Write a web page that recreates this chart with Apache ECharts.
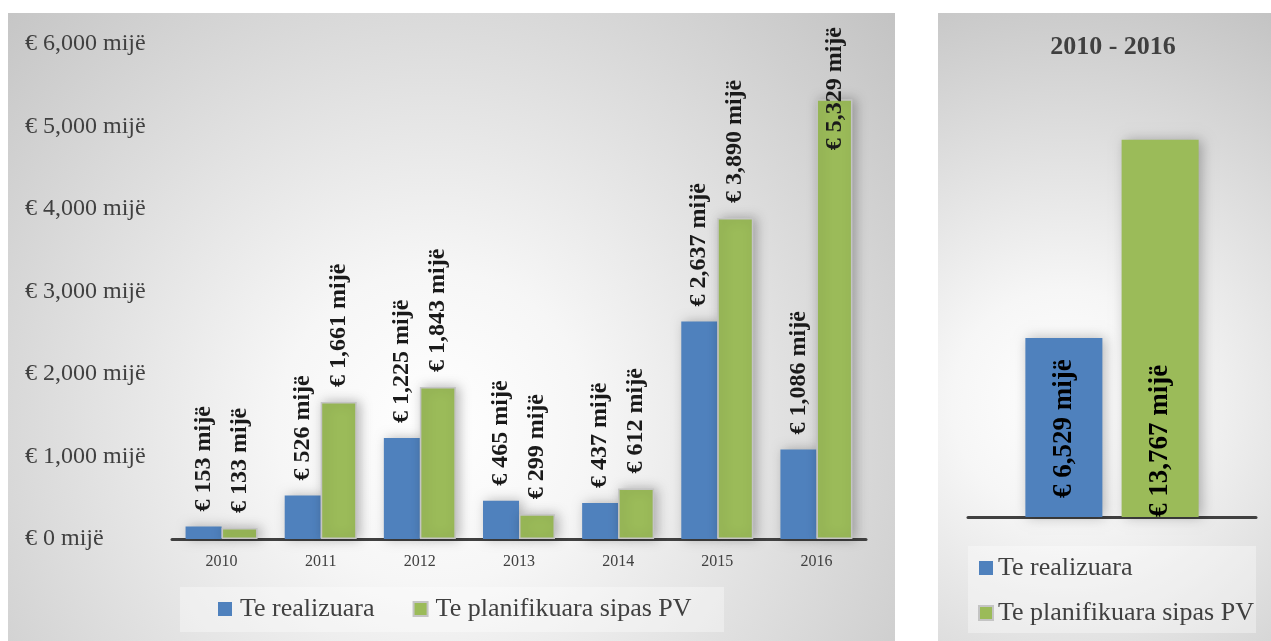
<!DOCTYPE html>
<html>
<head>
<meta charset="utf-8">
<script src="https://cdn.jsdelivr.net/npm/echarts@6/dist/echarts.min.js"></script>
<style>
  html, body { margin: 0; padding: 0; background: #ffffff; }
  #chart { width: 1271px; height: 641px; }
</style>
</head>
<body>
<div id="chart"></div>
<script>
// Yearly amounts, thousands of euro
const years = ['2010', '2011', '2012', '2013', '2014', '2015', '2016'];
const realized = [153, 526, 1225, 465, 437, 2637, 1086];
const planned = [133, 1661, 1843, 299, 612, 3890, 5329];

// Totals for the whole period
const periodLabel = ['2010 - 2016'];
const realizedTotal = [6529];
const plannedTotal = [13767];

const seriesNames = ['Te realizuara', 'Te planifikuara sipas PV'];
const valueTicks = [0, 1000, 2000, 3000, 4000, 5000, 6000];

const FONT = '"Liberation Serif", "DejaVu Serif", serif';
const BLUE = '#4f81bd';
const GREEN = '#9bbb59';
const TEXT = '#404040';

const money = v => '€ ' + Number(v).toLocaleString('en-US') + ' mijë';

const barShadow = {
  shadowBlur: 12,
  shadowColor: 'rgba(0,0,0,0.28)',
  shadowOffsetX: 3,
  shadowOffsetY: 0
};

const yearLabel = {
  show: true,
  position: 'top',
  distance: 15,
  rotate: 90,
  align: 'left',
  verticalAlign: 'middle',
  fontFamily: FONT,
  fontWeight: 'bold',
  fontSize: 24,
  color: '#1a1a1a',
  formatter: p => money(p.value)
};

// the tallest bar's label is pulled down along its own direction so it stays inside the panel
const plannedData = planned.map(v =>
  v === Math.max(...planned) ? { value: v, label: { offset: [-66, 0] } } : v
);

const chart = echarts.init(document.getElementById('chart'), null, { renderer: 'canvas' });

chart.setOption({
  animation: false,
  graphic: [
    {
      type: 'rect', z: -10, silent: true,
      shape: { x: 8, y: 13, width: 887, height: 628 },
      style: {
        fill: {
          type: 'radial', x: 0.48, y: 0.66, r: 1.0,
          colorStops: [
            { offset: 0, color: '#ffffff' },
            { offset: 0.25, color: '#f6f6f6' },
            { offset: 1, color: '#c2c2c2' }
          ]
        }
      }
    },
    {
      type: 'rect', z: -10, silent: true,
      shape: { x: 938, y: 13, width: 333, height: 628 },
      style: {
        fill: {
          type: 'radial', x: 0.38, y: 0.62, r: 1.35,
          colorStops: [
            { offset: 0, color: '#ffffff' },
            { offset: 0.25, color: '#f6f6f6' },
            { offset: 1, color: '#c2c2c2' }
          ]
        }
      }
    },
    {
      type: 'rect', z: -5, silent: true,
      shape: { x: 180, y: 587, width: 544, height: 45 },
      style: { fill: 'rgba(255,255,255,0.35)' }
    },
    {
      type: 'rect', z: -5, silent: true,
      shape: { x: 968, y: 546, width: 288, height: 87 },
      style: { fill: 'rgba(255,255,255,0.35)' }
    }
  ],
  title: {
    text: periodLabel[0],
    left: 1108,
    top: 29,
    textAlign: 'center',
    textStyle: { fontFamily: FONT, fontWeight: 'bold', fontSize: 26, color: TEXT }
  },
  legend: [
    {
      data: seriesNames,
      orient: 'horizontal',
      left: 218,
      top: 594,
      itemWidth: 14,
      itemHeight: 14,
      itemGap: 38,
      icon: 'rect',
      padding: 0,
      textStyle: { fontFamily: FONT, fontSize: 26, color: TEXT, lineHeight: 30, padding: [0, 0, 0, 3] }
    },
    {
      data: seriesNames,
      orient: 'vertical',
      left: 978,
      top: 553,
      itemWidth: 14,
      itemHeight: 14,
      itemGap: 15,
      icon: 'rect',
      padding: 0,
      textStyle: { fontFamily: FONT, fontSize: 26, color: TEXT, lineHeight: 30, padding: [0, 0, 0, 0] }
    }
  ],
  grid: [
    { left: 172, right: 405, top: 44, bottom: 102 },
    { left: 968, right: 15, top: 106, bottom: 124 }
  ],
  xAxis: [
    {
      type: 'category', gridIndex: 0, data: years,
      axisLine: { lineStyle: { color: '#404040', width: 3 } },
      axisTick: { show: false },
      axisLabel: { fontFamily: FONT, fontSize: 16, color: TEXT, margin: 15 }
    },
    {
      type: 'category', gridIndex: 1, data: periodLabel,
      axisLine: { lineStyle: { color: '#404040', width: 3 } },
      axisTick: { show: false },
      axisLabel: { show: false }
    }
  ],
  yAxis: [
    {
      type: 'value', gridIndex: 0,
      min: valueTicks[0], max: valueTicks[valueTicks.length - 1], interval: 1000,
      splitLine: { show: false },
      axisLine: { show: false },
      axisTick: { show: false },
      axisLabel: {
        align: 'left', margin: 147,
        fontFamily: FONT, fontSize: 24, color: TEXT,
        formatter: v => money(v)
      }
    },
    {
      type: 'value', gridIndex: 1, min: 0, max: 15000,
      show: false, splitLine: { show: false }
    }
  ],
  series: [
    {
      name: seriesNames[0], type: 'bar', xAxisIndex: 0, yAxisIndex: 0,
      data: realized, barWidth: 36, barGap: '0%',
      itemStyle: Object.assign({ color: BLUE }, barShadow),
      label: yearLabel
    },
    {
      name: seriesNames[1], type: 'bar', xAxisIndex: 0, yAxisIndex: 0,
      data: plannedData, barWidth: 36, barGap: '0%',
      itemStyle: Object.assign({ color: GREEN, borderColor: '#c4c4c4', borderWidth: 1.5 }, barShadow),
      label: yearLabel
    },
    {
      name: seriesNames[0], type: 'bar', xAxisIndex: 1, yAxisIndex: 1,
      data: realizedTotal, barWidth: 77, barGap: '25%',
      itemStyle: Object.assign({ color: BLUE }, barShadow),
      label: {
        show: true, position: 'insideBottom', distance: 19, rotate: 90,
        align: 'left', verticalAlign: 'middle',
        fontFamily: FONT, fontWeight: 'bold', fontSize: 27, color: '#000000',
        formatter: p => money(p.value)
      }
    },
    {
      name: seriesNames[1], type: 'bar', xAxisIndex: 1, yAxisIndex: 1,
      data: plannedTotal, barWidth: 77, barGap: '25%',
      itemStyle: Object.assign({ color: GREEN }, barShadow),
      label: {
        show: true, position: 'insideBottom', distance: 0, rotate: 90,
        align: 'left', verticalAlign: 'middle',
        fontFamily: FONT, fontWeight: 'bold', fontSize: 27, color: '#000000',
        formatter: p => money(p.value)
      }
    }
  ]
});
</script>
</body>
</html>
